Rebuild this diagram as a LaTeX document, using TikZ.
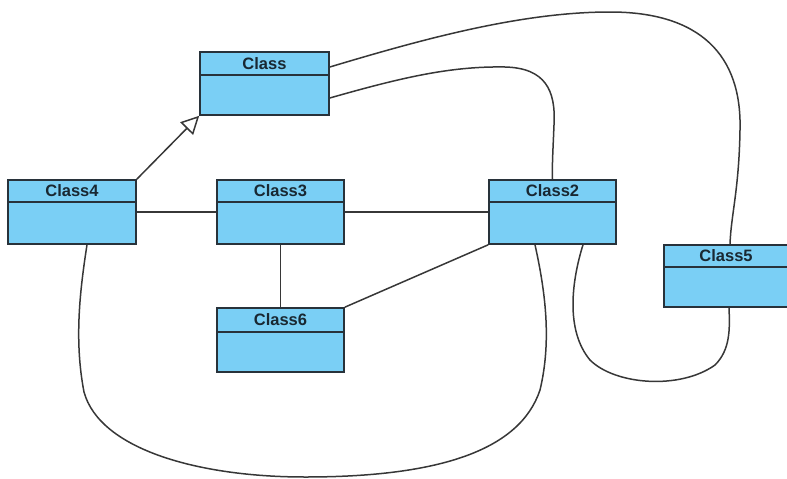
\documentclass[tikz,border=0pt]{standalone}
\usepackage{fontspec}
\setmainfont{Liberation Sans}
\usetikzlibrary{arrows.meta,calc}
\definecolor{boxfill}{RGB}{122,207,245}
\definecolor{boxline}{RGB}{40,50,58}
\definecolor{conn}{RGB}{55,55,55}
\definecolor{titlecol}{RGB}{25,40,50}
\begin{document}
\begin{tikzpicture}[x=1pt,y=-1pt,
  classbox/.style={draw=boxline, fill=boxfill, line width=1.6pt, inner sep=0pt, rectangle},
  divider/.style={draw=boxline, line width=1.7pt},
  classtitle/.style={inner sep=0pt, text=titlecol, font=\fontsize{16.5}{18}\selectfont\bfseries},
  link/.style={draw=conn, line width=1.5pt},
  gen/.style={link, -{Triangle[open, length=18pt, width=18pt, fill=white]}}
]
\useasboundingbox (0,0) rectangle (787,479);
\clip (0,0) rectangle (787,479);

% class boxes
\node[classbox, minimum width=129pt, minimum height=63pt] (cls) at (264.5,83.5) {};
\node[classbox, minimum width=128pt, minimum height=64pt] (c4) at (72,212) {};
\node[classbox, minimum width=127pt, minimum height=64pt] (c3) at (280.5,212) {};
\node[classbox, minimum width=127pt, minimum height=64pt] (c2) at (552.5,212) {};
\node[classbox, minimum width=124pt, minimum height=62pt] (c5) at (726,276) {};
\node[classbox, minimum width=127pt, minimum height=64pt] (c6) at (280.5,340) {};

% dividers
\foreach \n/\d in {cls/24, c4/23, c3/23, c2/23, c5/23, c6/25} {
  \draw[divider] ($(\n.north west)+(0,\d)$) -- ($(\n.north east)+(0,\d)$);
}

% titles
\node[classtitle] (clst) at ($(cls.north)+(0,12)$) {Class};
\node[classtitle] (c4t) at ($(c4.north)+(0,11.5)$) {Class4};
\node[classtitle] (c3t) at ($(c3.north)+(0,11.5)$) {Class3};
\node[classtitle] (c2t) at ($(c2.north)+(0,11.5)$) {Class2};
\node[classtitle] (c5t) at ($(c5.north)+(0,11.5)$) {Class5};
\node[classtitle] (c6t) at ($(c6.north)+(0,12.5)$) {Class6};

% straight connectors
\draw[gen] (c4.north east) -- (cls.south west);
\draw[link] (c4.east) -- (c3.west);
\draw[link] (c3.east) -- (c2.west);
\draw[link] (c3.south) -- (c6.north);
\draw[link] (c6.north east) -- (c2.south west);

% curved connectors
\draw[link] ($(cls.east)+(0,-16.5)$)
  .. controls (420,40) and (520,12) .. (610,12)
  .. controls (700,12) and (742,55) .. (740,130)
  .. controls (739,190) and (731,215) .. ($(c5.north)+(4,0)$);

\draw[link] ($(cls.east)+(0,14.5)$)
  .. controls (400,78) and (450,66) .. (505,67)
  .. controls (545,68) and (556,90) .. (554,125)
  .. controls (553,150) and (552,165) .. (c2.north);

\draw[link] ($(c4.south)+(15,0)$)
  .. controls (80,290) and (74,340) .. (84,392)
  .. controls (100,450) and (200,477) .. (305,477)
  .. controls (440,477) and (520,450) .. (540,390)
  .. controls (552,340) and (545,290) .. ($(c2.south)+(-17.5,0)$);

\draw[link] ($(c2.south)+(30.5,0)$)
  .. controls (572,280) and (565,330) .. (590,360)
  .. controls (615,385) and (680,390) .. (715,365)
  .. controls (730,350) and (730,330) .. ($(c5.south)+(3,0)$);
\end{tikzpicture}
\end{document}
